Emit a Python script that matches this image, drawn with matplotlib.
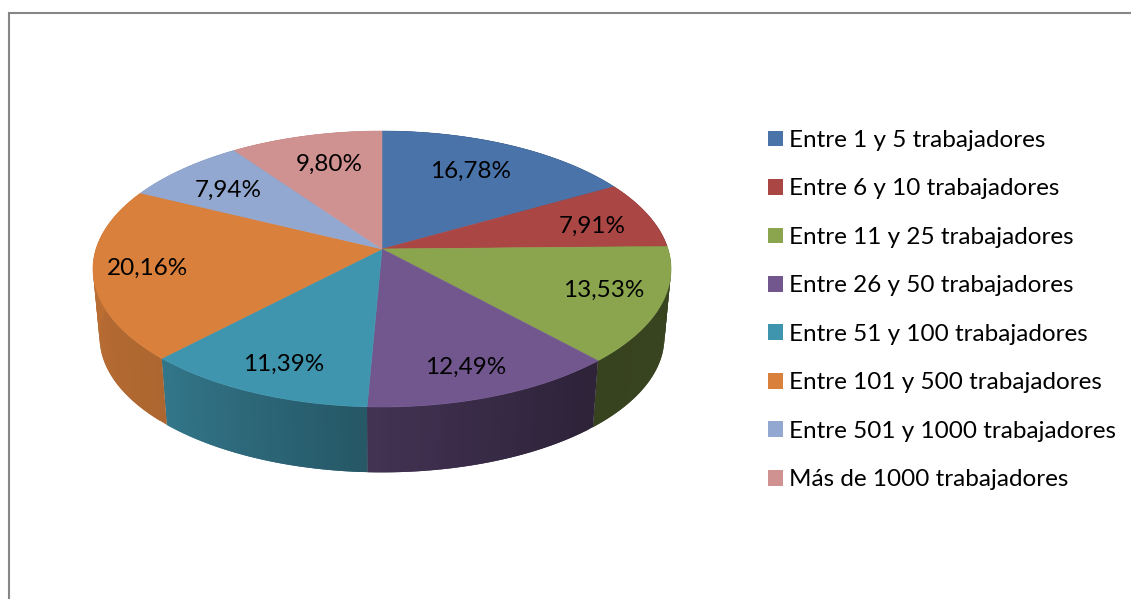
import numpy as np
import matplotlib
matplotlib.use("Agg")
import matplotlib.pyplot as plt
from matplotlib.patches import Patch, Polygon

# -----
# Data
# -----

categories = ["Entre 1 y 5 trabajadores", "Entre 6 y 10 trabajadores", "Entre 11 y 25 trabajadores",
              "Entre 26 y 50 trabajadores", "Entre 51 y 100 trabajadores", "Entre 101 y 500 trabajadores",
              "Entre 501 y 1000 trabajadores", "Más de 1000 trabajadores"]
values = [16.78, 7.91, 13.53, 12.49, 11.39, 20.16, 7.94, 9.80]

# -------
# Styles
# -------

colors = ["#4A74A9", "#AA4644", "#8AA54E", "#72578F", "#4095AE", "#D9803C", "#93A8D0", "#D09291"]
plt.rcParams["font.family"] = ["Lato", "DejaVu Sans"]
font_size = 17.5

# pie geometry in pixels, top face is a circle seen in perspective
cx, cy = 382, 249
rx, ry = 286, 135.1
persp = 0.145
drop = 69
bottom_scale = 0.977

# how dark the side wall gets, by angle clockwise from 12 o'clock
shade_angles = [90, 141, 183, 224, 270]
shade_levels = [0.41, 0.40, 0.59, 0.80, 0.86]

# nudge of each label away from its spot on the slice (Excel best fit look)
label_radius = 0.7
label_nudge = [(-4, -3), (22, 1.5), (30, 2), (8, 20), (-12, 19), (-34, 2), (-11, -1.5), (3, -2)]


def project(t, r=1.0, scale=1.0, dy=0.0):
    w = 1 + persp * r * np.cos(t)
    x = cx + scale * rx * r * np.sin(t) / w
    y = cy + dy - scale * ry * r * np.cos(t) / w
    return np.column_stack([x, y])


fig = plt.figure(figsize=(11.31, 5.99), dpi=100)
ax = fig.add_axes([0, 0, 1, 1])
ax.set_xlim(0, 1131)
ax.set_ylim(599, 0)
ax.axis("off")

# chart frame, only left and top show in the crop
ax.plot([9, 9, 1131], [599, 13, 13], color="#868686", lw=1.5, solid_joinstyle="miter")

edges = np.cumsum([0] + values) / np.sum(values) * 2 * np.pi

# side walls first, top faces go over them
for i, color in enumerate(colors):
    base = np.array(matplotlib.colors.to_rgb(color))
    steps = np.linspace(edges[i], edges[i + 1], 40)
    top = project(steps)
    bottom = project(steps, scale=bottom_scale, dy=drop)
    for j in range(len(steps) - 1):
        shade = np.interp(np.degrees(steps[j]), shade_angles, shade_levels)
        # each strip runs one step over the next one so no seams show
        k = min(j + 2, len(steps) - 1)
        quad = [top[j], top[k], bottom[k], bottom[j]]
        ax.add_patch(Polygon(quad, closed=True, facecolor=base * shade, edgecolor="none"))

for i, color in enumerate(colors):
    steps = np.linspace(edges[i], edges[i + 1], 120)
    pts = np.vstack([[cx, cy], project(steps)])
    ax.add_patch(Polygon(pts, closed=True, facecolor=color, edgecolor=color, lw=0.4))

# percent labels with decimal comma
for i, v in enumerate(values):
    mid = (edges[i] + edges[i + 1]) / 2
    x, y = project(np.array([mid]), r=label_radius)[0]
    ax.text(x + label_nudge[i][0], y + label_nudge[i][1], f"{v:.2f}%".replace(".", ","),
            ha="center", va="center", fontsize=font_size, color="black")

handles = [Patch(facecolor=c, edgecolor="none") for c in colors]
font_px = font_size * 100 / 72
ax.legend(handles, categories, loc="upper left", bbox_to_anchor=(768, 130), bbox_transform=ax.transData,
          frameon=False, fontsize=font_size, borderpad=0, borderaxespad=0,
          handlelength=15 / font_px, handleheight=15 / font_px, handletextpad=6 / font_px,
          labelspacing=1.13)

plt.savefig("out.png", dpi=100)
